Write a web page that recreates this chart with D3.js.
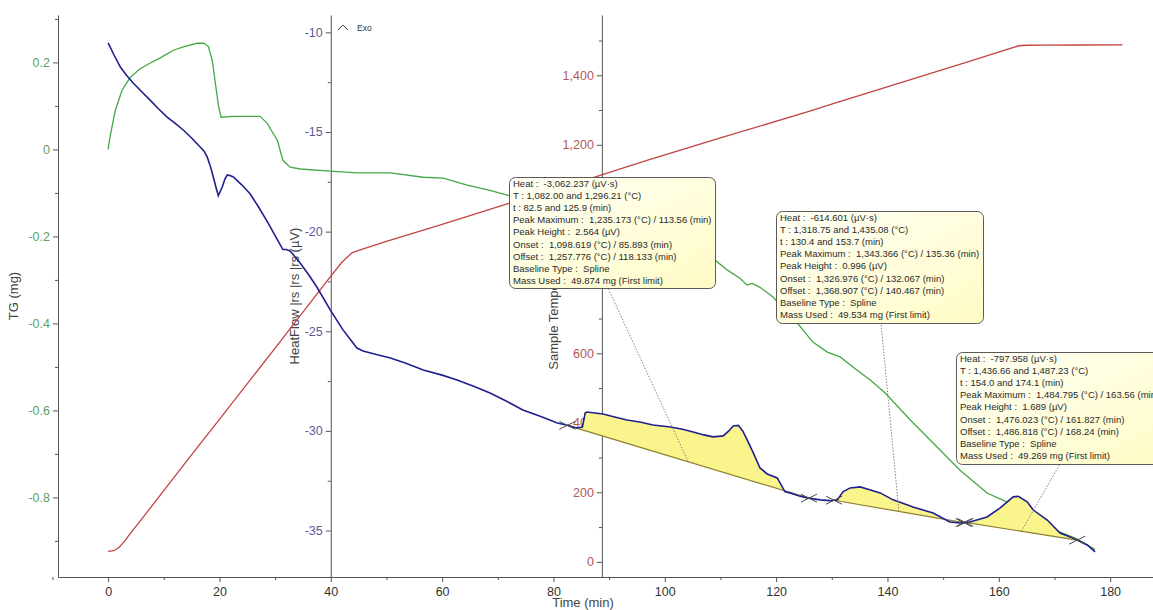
<!DOCTYPE html>
<html>
<head>
<meta charset="utf-8">
<script src="https://cdn.jsdelivr.net/npm/d3@7"></script>
<style>
  html, body { margin: 0; padding: 0; background: #fff; }
  svg { display: block; font-family: "Liberation Sans", Arial, sans-serif; }
</style>
</head>
<body>
<svg id="chart" width="1153" height="610"></svg>
<script>
// ---- Data ---------------------------------------------------------------
// Heat flow signal (µV) against time (min)
const blueTime = [0,1,2.2,3.3,4.5,6,7.5,9,10.6,12,13.5,15,16.2,17.2,17.8,18.4,18.9,19.4,19.8,20.2,20.5,21,21.4,22,22.5,24,25.5,27,28.6,30,31.4,32,32.7,34.5,36,37.5,39.9,42.2,44.7,45.8,48,50.7,53.5,56.6,60,62.7,66,68.6,71.5,74.5,77.5,80.7,82.5,84.2,85.2,85.7,86.0,88.9,91,93.2,95.5,97.9,101,103,105.1,107,108.7,110.5,111.5,112.3,113.2,114,114.8,115.9,117.1,118.4,120.2,121.6,122.5,124,125.6,127.9,129.7,131,132,133.3,135.1,136.8,138.7,141,144.6,148.2,151.2,153,154.8,157.9,160.2,162.6,163.5,165.1,166.2,168.7,171,173.3,175.9,177.3];
const blueHF = [-10.53,-11.1,-11.74,-12.15,-12.54,-12.97,-13.39,-13.82,-14.25,-14.55,-14.9,-15.3,-15.65,-15.95,-16.25,-16.75,-17.26,-17.8,-18.2,-17.95,-17.76,-17.35,-17.16,-17.2,-17.26,-17.65,-18.1,-18.75,-19.5,-20.2,-20.9,-20.9,-20.97,-21.57,-22.15,-22.78,-23.93,-24.93,-25.84,-25.99,-26.15,-26.34,-26.6,-26.94,-27.2,-27.44,-27.8,-28.1,-28.5,-28.95,-29.25,-29.6,-29.72,-29.85,-29.8,-29.1,-29.05,-29.15,-29.3,-29.45,-29.55,-29.7,-29.8,-29.9,-30.05,-30.2,-30.3,-30.25,-30.0,-29.75,-29.72,-30.0,-30.45,-31.1,-31.86,-32.16,-32.36,-33.06,-33.11,-33.25,-33.36,-33.46,-33.5,-33.46,-33.06,-32.86,-32.81,-32.95,-33.11,-33.46,-33.82,-34.12,-34.57,-34.62,-34.57,-34.32,-33.87,-33.31,-33.28,-33.56,-33.97,-34.47,-35.12,-35.37,-35.72,-36.07];

// TG signal (mg)
const greenTime = [0,0.4,1.3,2.5,4.0,5.7,7.5,9.3,11.7,13.8,16.0,17.2,18.0,18.7,19.2,19.8,20.3,22.5,25.5,27.3,28.6,29.5,30.4,31.4,32.7,34.5,39.9,44.7,50.7,56.6,60.2,64.5,68.6,71.7,80,90,100,105,109,111.2,113.5,114.8,115.7,117.1,119.5,121.5,123.8,126.6,129.2,131.5,133.8,136.9,139.6,144.1,148.2,153,157.9,161.5,163.8,167.4,171,174.1,177.3];
const greenTG = [0,0.033,0.09,0.136,0.166,0.185,0.198,0.21,0.228,0.237,0.244,0.244,0.237,0.205,0.159,0.102,0.074,0.076,0.076,0.076,0.06,0.04,0.021,-0.025,-0.041,-0.045,-0.05,-0.054,-0.054,-0.064,-0.066,-0.082,-0.094,-0.105,-0.133,-0.165,-0.205,-0.228,-0.254,-0.277,-0.296,-0.312,-0.308,-0.317,-0.34,-0.37,-0.399,-0.443,-0.466,-0.477,-0.5,-0.53,-0.56,-0.622,-0.675,-0.737,-0.79,-0.811,-0.83,-0.857,-0.88,-0.896,-0.92];

// Sample temperature (°C)
const redTime = [0,1,2,3,4,6,10,14.7,20,30,39.9,42,43.8,45,50,60,71.7,82.5,96.8,110,125.9,130.4,153.7,161.8,163.6,165,168.2,174.1,182.2];
const redTemp = [30,32,42,60,82,122,205,302,410,615,820,862,889,896,922,971,1030,1082,1155,1220,1296,1319,1435,1476,1485,1486.5,1486.8,1487.2,1487.5];

// Peak integration limits (min)
const peakStart = [82.5, 130.4, 154.0];
const peakEnd   = [125.9, 153.7, 174.1];

// Peak reports
const note1Lines = [
  "Heat :  -3,062.237 (µV·s)",
  "T : 1,082.00 and 1,296.21 (°C)",
  "t : 82.5 and 125.9 (min)",
  "Peak Maximum :  1,235.173 (°C) / 113.56 (min)",
  "Peak Height :  2.564 (µV)",
  "Onset :  1,098.619 (°C) / 85.893 (min)",
  "Offset :  1,257.776 (°C) / 118.133 (min)",
  "Baseline Type :  Spline",
  "Mass Used :  49.874 mg (First limit)"
];
const note2Lines = [
  "Heat :  -614.601 (µV·s)",
  "T : 1,318.75 and 1,435.08 (°C)",
  "t : 130.4 and 153.7 (min)",
  "Peak Maximum :  1,343.366 (°C) / 135.36 (min)",
  "Peak Height :  0.996 (µV)",
  "Onset :  1,326.976 (°C) / 132.067 (min)",
  "Offset :  1,368.907 (°C) / 140.467 (min)",
  "Baseline Type :  Spline",
  "Mass Used :  49.534 mg (First limit)"
];
const note3Lines = [
  "Heat :  -797.958 (µV·s)",
  "T : 1,436.66 and 1,487.23 (°C)",
  "t : 154.0 and 174.1 (min)",
  "Peak Maximum :  1,484.795 (°C) / 163.56 (min)",
  "Peak Height :  1.689 (µV)",
  "Onset :  1,476.023 (°C) / 161.827 (min)",
  "Offset :  1,486.818 (°C) / 168.24 (min)",
  "Baseline Type :  Spline",
  "Mass Used :  49.269 mg (First limit)"
];

// Tick values
const timeTicks = [0,20,40,60,80,100,120,140,160,180];
const timeMinor = [-10,10,30,50,70,90,110,130,150,170];
const tgTicks = [0.2,0,-0.2,-0.4,-0.6,-0.8];
const tgMinor = [0.3,0.1,-0.1,-0.3,-0.5,-0.7,-0.9];
const hfTicks = [-10,-15,-20,-25,-30,-35];
const hfMinor = [-12.5,-17.5,-22.5,-27.5,-32.5];
const tempTicks = [0,200,400,600,800,1000,1200,1400];
const tempMinor = [100,300,500,700,900,1100,1300,1500];

// ---- Layout -------------------------------------------------------------
const plotL = 58, plotR = 1153, plotT = 15, plotB = 577;
const hfAxisTime = 40, tempAxisTime = 88.7;

const svg = d3.select("#chart");
const x = d3.scaleLinear().domain([-9, 187.7]).range([plotL, plotR]);
const yTG = d3.scaleLinear().domain([-0.983, 0.309]).range([plotB, plotT]);
const yHF = d3.scaleLinear().domain([-37.33, -9.13]).range([plotB, plotT]);
const yT = d3.scaleLinear().domain([-43.7, 1573.5]).range([plotB, plotT]);

const axisColor = "#555";
const tickFont = 12.5;

function styleAxis(g, color) {
  g.select(".domain").attr("stroke", axisColor);
  g.selectAll(".tick line").attr("stroke", axisColor);
  g.selectAll(".tick text").attr("fill", color).attr("font-size", tickFont)
    .attr("font-family", "'Liberation Sans', Arial, sans-serif");
}

// x axis
const gx = svg.append("g").attr("transform", `translate(0,${plotB})`)
  .call(d3.axisBottom(x).tickValues(timeTicks).tickSize(5).tickSizeOuter(0).tickPadding(5).tickFormat(d => String(d)));
styleAxis(gx, "#333");
const gxm = svg.append("g").attr("transform", `translate(0,${plotB})`)
  .call(d3.axisBottom(x).tickValues(timeMinor).tickSize(3).tickSizeOuter(0).tickFormat(""));
gxm.select(".domain").remove();
gxm.selectAll(".tick line").attr("stroke", axisColor);

// vertical axes: [scale, position, majors, minors, label colour, format]
const vAxes = [
  [yTG, plotL, tgTicks, tgMinor, "#5f9f5f", d => String(d)],
  [yHF, x(hfAxisTime), hfTicks, hfMinor, "#5b5b98", d => String(d)],
  [yT, x(tempAxisTime), tempTicks, tempMinor, "#b25858", d3.format(",")]
];
vAxes.forEach(([scale, pos, majors, minors, color, fmt]) => {
  const g = svg.append("g").attr("transform", `translate(${pos},0)`)
    .call(d3.axisLeft(scale).tickValues(majors).tickSize(5).tickSizeOuter(0).tickPadding(3).tickFormat(fmt));
  styleAxis(g, color);
  const gm = svg.append("g").attr("transform", `translate(${pos},0)`)
    .call(d3.axisLeft(scale).tickValues(minors).tickSize(3).tickSizeOuter(0).tickFormat(""));
  gm.select(".domain").remove();
  gm.selectAll(".tick line").attr("stroke", axisColor);
});

// axis titles
const midY = (plotT + plotB) / 2;
function vTitle(xPos, text) {
  svg.append("text").attr("transform", `translate(${xPos},${midY}) rotate(-90)`)
    .attr("text-anchor", "middle").attr("dominant-baseline", "central")
    .attr("font-size", 13).attr("fill", "#444").text(text);
}
vTitle(13, "TG (mg)");
vTitle(294, "HeatFlow |rs |rs |rs (µV)");
vTitle(553, "Sample Temperature (°C)");
svg.append("text").attr("x", 583).attr("y", 607).attr("text-anchor", "middle")
  .attr("font-size", 13).attr("fill", "#444").text("Time (min)");

// ---- Curves -------------------------------------------------------------
const green = greenTime.map((t, i) => [t, greenTG[i]]);
const red = redTime.map((t, i) => [t, redTemp[i]]);
const blue = blueTime.map((t, i) => [t, blueHF[i]]);

svg.append("path").datum(green)
  .attr("d", d3.line().x(d => x(d[0])).y(d => yTG(d[1])))
  .attr("fill", "none").attr("stroke", "#45a845").attr("stroke-width", 1.3);
svg.append("path").datum(red)
  .attr("d", d3.line().x(d => x(d[0])).y(d => yT(d[1])))
  .attr("fill", "none").attr("stroke", "#c04444").attr("stroke-width", 1.3);

// heat flow value at any time (linear between samples)
function hfAt(t) {
  const i = d3.bisectLeft(blueTime, t);
  if (i <= 0) return blueHF[0];
  if (i >= blueTime.length) return blueHF[blueHF.length - 1];
  const t0 = blueTime[i - 1], t1 = blueTime[i];
  return blueHF[i - 1] + (blueHF[i] - blueHF[i - 1]) * (t - t0) / (t1 - t0);
}

// integrated peak areas between the signal and the baseline
const peaks = peakStart.map((s, i) => {
  const e = peakEnd[i];
  const b0 = hfAt(s), b1 = hfAt(e);
  const base = t => b0 + (b1 - b0) * (t - s) / (e - s);
  const pts = [[s, b0]].concat(blue.filter(d => d[0] > s && d[0] < e)).concat([[e, b1]]);
  return { s, e, b0, b1, base, pts };
});

peaks.forEach(p => {
  svg.append("path").datum(p.pts)
    .attr("d", d3.area().x(d => x(d[0])).y0(d => yHF(p.base(d[0]))).y1(d => yHF(d[1])))
    .attr("fill", "#faf48c").attr("stroke", "none");
});
peaks.forEach(p => {
  svg.append("line")
    .attr("x1", x(p.s)).attr("y1", yHF(p.b0)).attr("x2", x(p.e)).attr("y2", yHF(p.b1))
    .attr("stroke", "#8e7f2c").attr("stroke-width", 1.2);
});

svg.append("path").datum(blue)
  .attr("d", d3.line().x(d => x(d[0])).y(d => yHF(d[1])))
  .attr("fill", "none").attr("stroke", "#1f1f8f").attr("stroke-width", 1.6);

// limit markers
peaks.forEach(p => {
  [[p.s, p.b0], [p.e, p.b1]].forEach(([t, v]) => {
    const cx = x(t), cy = yHF(v);
    svg.append("path")
      .attr("d", `M${cx - 8},${cy - 4}L${cx + 8},${cy + 4}M${cx - 8},${cy + 4}L${cx + 8},${cy - 4}`)
      .attr("stroke", "#4a4a4a").attr("stroke-width", 1).attr("fill", "none");
  });
});

// ---- Peak reports ----------------------------------------------------------
const defs = svg.append("defs");
const grad = defs.append("linearGradient").attr("id", "noteFill")
  .attr("x1", "0").attr("y1", "0").attr("x2", "1").attr("y2", "1");
grad.append("stop").attr("offset", "0%").attr("stop-color", "#fffff6");
grad.append("stop").attr("offset", "100%").attr("stop-color", "#fffcc6");

const boxes = [
  { x: 509, y: 177, w: 206, h: 111, ax: 608, lines: note1Lines },
  { x: 776, y: 211, w: 207, h: 112, ax: 881, lines: note2Lines },
  { x: 956, y: 352, w: 212, h: 112, ax: 1060, lines: note3Lines }
];

boxes.forEach((b, i) => {
  const p = peaks[i];
  const mt = (p.s + p.e) / 2;
  svg.append("line")
    .attr("x1", x(mt)).attr("y1", yHF(p.base(mt)))
    .attr("x2", b.ax).attr("y2", b.y + b.h)
    .attr("stroke", "#777").attr("stroke-width", 0.9).attr("stroke-dasharray", "1.5,1.5");
});

boxes.forEach(b => {
  const g = svg.append("g");
  g.append("rect").attr("x", b.x + 0.5).attr("y", b.y + 0.5).attr("width", b.w).attr("height", b.h)
    .attr("rx", 6).attr("ry", 6).attr("fill", "url(#noteFill)")
    .attr("stroke", "#5a5a5a").attr("stroke-width", 1);
  g.selectAll("text").data(b.lines).enter().append("text")
    .attr("x", b.x + 4).attr("y", (d, j) => b.y + 9.5 + j * 12.2)
    .attr("font-size", 9.5).attr("fill", "#2a2a2a")
    .style("white-space", "pre").text(d => d);
});

// Exo direction marker
svg.append("path").attr("d", "M338,30L343,25L348,30")
  .attr("fill", "none").attr("stroke", "#444").attr("stroke-width", 1);
svg.append("text").attr("x", 357).attr("y", 31).attr("font-size", 8.5).attr("fill", "#333").text("Exo");
</script>
</body>
</html>
